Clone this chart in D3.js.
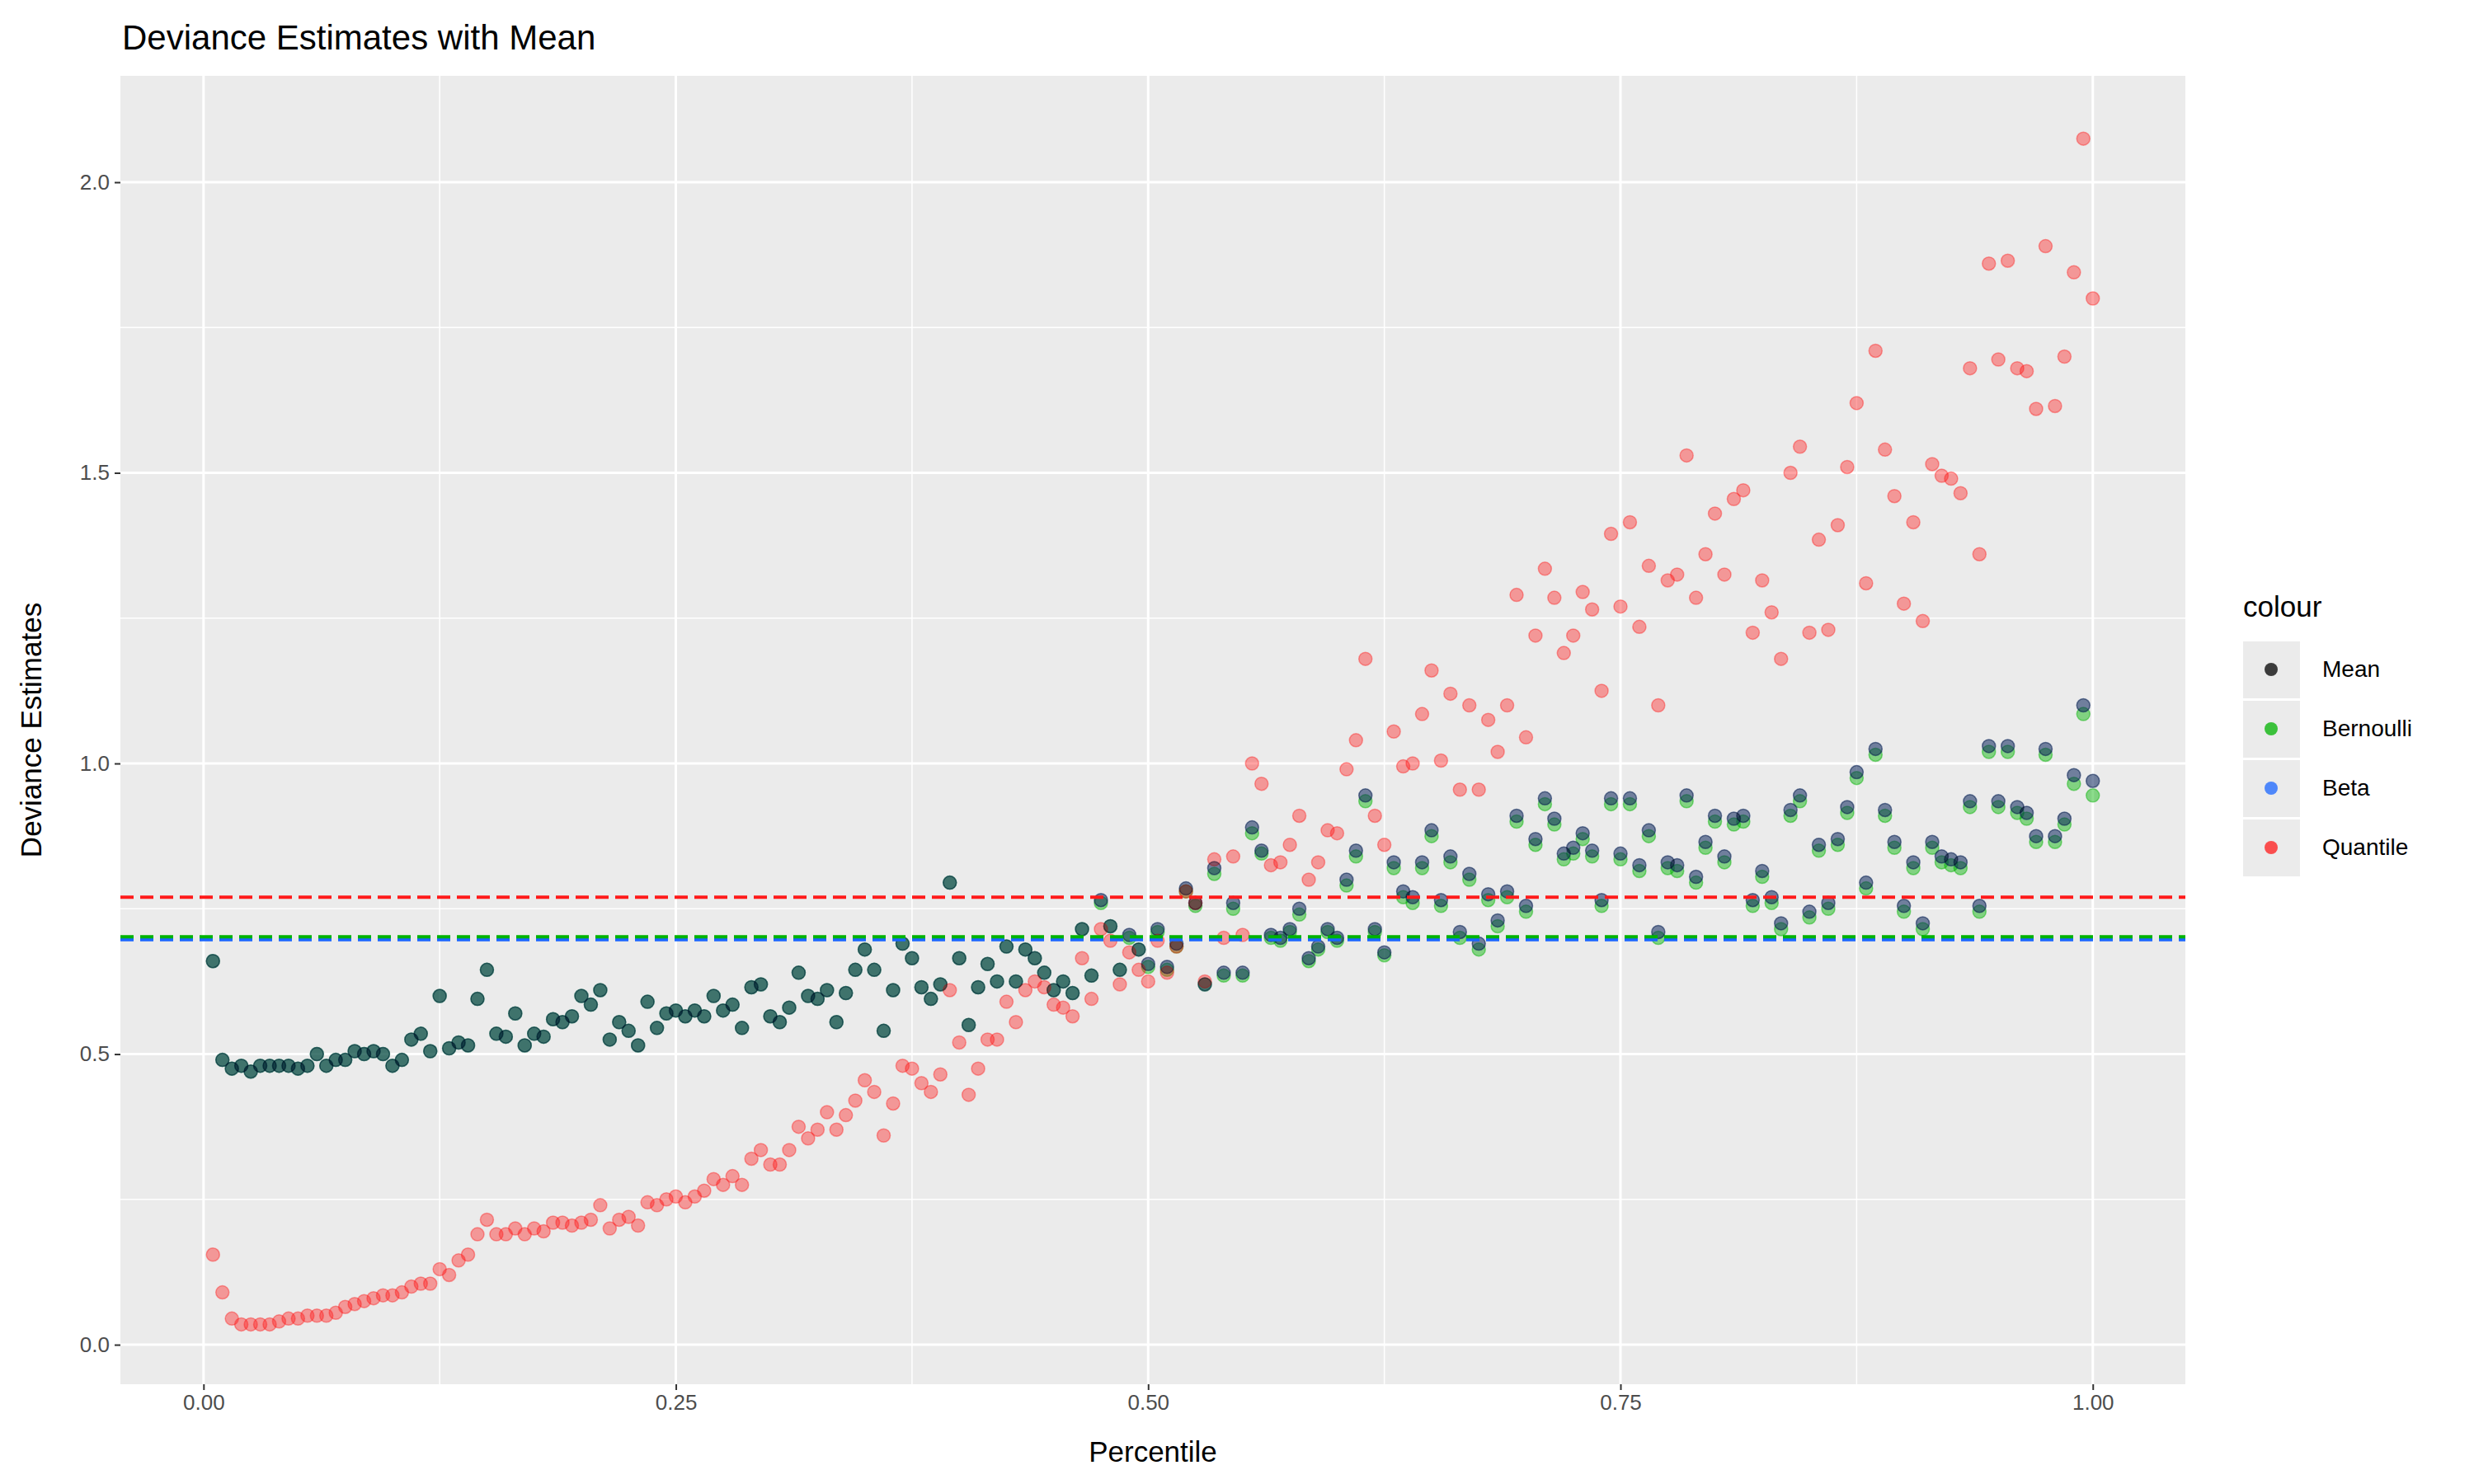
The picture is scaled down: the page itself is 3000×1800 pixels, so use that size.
<!DOCTYPE html>
<html><head><meta charset="utf-8">
<script src="https://cdn.jsdelivr.net/npm/d3@7"></script>
<style>body{margin:0;background:#fff}</style>
</head><body><div id="chart"></div>
<script>
// data: deviance estimates at percentiles 0.005 .. 1.000
var meanVals = [0.66,0.49,0.475,0.48,0.47,0.48,0.48,0.48,0.48,0.475,0.48,0.50,0.48,0.49,0.49,0.505,0.50,0.505,0.50,0.48,
0.49,0.525,0.535,0.505,0.60,0.51,0.52,0.515,0.595,0.645,0.535,0.53,0.57,0.515,0.535,0.53,0.56,0.555,0.565,0.60,
0.585,0.61,0.525,0.555,0.54,0.515,0.59,0.545,0.57,0.575,0.565,0.575,0.565,0.60,0.575,0.585,0.545,0.615,0.62,0.565,
0.555,0.58,0.64,0.60,0.595,0.61,0.555,0.605,0.645,0.68,0.645,0.54,0.61,0.69,0.665,0.615,0.595,0.62,0.795,0.665,
0.55,0.615,0.655,0.625,0.685,0.625,0.68,0.665,0.64,0.61,0.625,0.605,0.715,0.635,0.765,0.72,0.645,0.705,0.68,0.655,
0.715,0.65,0.69,0.785,0.76,0.62,0.82,0.64,0.76,0.64,0.89,0.85,0.705,0.70,0.715,0.75,0.665,0.685,0.715,0.70,
0.80,0.85,0.945,0.715,0.675,0.83,0.78,0.77,0.83,0.885,0.765,0.84,0.71,0.81,0.69,0.775,0.73,0.78,0.91,0.755,
0.87,0.94,0.905,0.845,0.855,0.88,0.85,0.765,0.94,0.845,0.94,0.825,0.885,0.71,0.83,0.825,0.945,0.805,0.865,0.91,
0.84,0.905,0.91,0.765,0.815,0.77,0.725,0.92,0.945,0.745,0.86,0.76,0.87,0.925,0.985,0.795,1.025,0.92,0.865,0.755,
0.83,0.725,0.865,0.84,0.835,0.83,0.935,0.755,1.03,0.935,1.03,0.925,0.915,0.875,1.025,0.875,0.905,0.98,1.10,0.97];

var bernoulliVals = [0.66,0.49,0.475,0.48,0.47,0.48,0.48,0.48,0.48,0.475,0.48,0.50,0.48,0.49,0.49,0.505,0.50,0.505,0.50,0.48,
0.49,0.525,0.535,0.505,0.60,0.51,0.52,0.515,0.595,0.645,0.535,0.53,0.57,0.515,0.535,0.53,0.56,0.555,0.565,0.60,
0.585,0.61,0.525,0.555,0.54,0.515,0.59,0.545,0.57,0.575,0.565,0.575,0.565,0.60,0.575,0.585,0.545,0.615,0.62,0.565,
0.555,0.58,0.64,0.60,0.595,0.61,0.555,0.605,0.645,0.68,0.645,0.54,0.61,0.69,0.665,0.615,0.595,0.62,0.795,0.665,
0.55,0.615,0.655,0.625,0.685,0.625,0.68,0.665,0.64,0.61,0.625,0.605,0.715,0.635,0.76,0.72,0.645,0.70,0.68,0.65,
0.71,0.645,0.685,0.78,0.755,0.62,0.81,0.635,0.75,0.635,0.88,0.845,0.70,0.695,0.71,0.74,0.66,0.68,0.71,0.695,
0.79,0.84,0.935,0.71,0.67,0.82,0.77,0.76,0.82,0.875,0.755,0.83,0.70,0.80,0.68,0.765,0.72,0.77,0.90,0.745,
0.86,0.93,0.895,0.835,0.845,0.87,0.84,0.755,0.93,0.835,0.93,0.815,0.875,0.70,0.82,0.815,0.935,0.795,0.855,0.90,
0.83,0.895,0.90,0.755,0.805,0.76,0.715,0.91,0.935,0.735,0.85,0.75,0.86,0.915,0.975,0.785,1.015,0.91,0.855,0.745,
0.82,0.715,0.855,0.83,0.825,0.82,0.925,0.745,1.02,0.925,1.02,0.915,0.905,0.865,1.015,0.865,0.895,0.965,1.085,0.945];

var betaVals = [0.66,0.49,0.475,0.48,0.47,0.48,0.48,0.48,0.48,0.475,0.48,0.50,0.48,0.49,0.49,0.505,0.50,0.505,0.50,0.48,
0.49,0.525,0.535,0.505,0.60,0.51,0.52,0.515,0.595,0.645,0.535,0.53,0.57,0.515,0.535,0.53,0.56,0.555,0.565,0.60,
0.585,0.61,0.525,0.555,0.54,0.515,0.59,0.545,0.57,0.575,0.565,0.575,0.565,0.60,0.575,0.585,0.545,0.615,0.62,0.565,
0.555,0.58,0.64,0.60,0.595,0.61,0.555,0.605,0.645,0.68,0.645,0.54,0.61,0.69,0.665,0.615,0.595,0.62,0.795,0.665,
0.55,0.615,0.655,0.625,0.685,0.625,0.68,0.665,0.64,0.61,0.625,0.605,0.715,0.635,0.765,0.72,0.645,0.705,0.68,0.655,
0.715,0.65,0.69,0.785,0.76,0.62,0.82,0.64,0.76,0.64,0.89,0.85,0.705,0.70,0.715,0.75,0.665,0.685,0.715,0.70,
0.80,0.85,0.945,0.715,0.675,0.83,0.78,0.77,0.83,0.885,0.765,0.84,0.71,0.81,0.69,0.775,0.73,0.78,0.91,0.755,
0.87,0.94,0.905,0.845,0.855,0.88,0.85,0.765,0.94,0.845,0.94,0.825,0.885,0.71,0.83,0.825,0.945,0.805,0.865,0.91,
0.84,0.905,0.91,0.765,0.815,0.77,0.725,0.92,0.945,0.745,0.86,0.76,0.87,0.925,0.985,0.795,1.025,0.92,0.865,0.755,
0.83,0.725,0.865,0.84,0.835,0.83,0.935,0.755,1.03,0.935,1.03,0.925,0.915,0.875,1.025,0.875,0.905,0.98,1.10,0.97];

var quantileVals = [0.155,0.09,0.045,0.035,0.035,0.035,0.035,0.04,0.045,0.045,0.05,0.05,0.05,0.055,0.065,0.07,0.075,0.08,0.085,0.085,
0.09,0.10,0.105,0.105,0.13,0.12,0.145,0.155,0.19,0.215,0.19,0.19,0.20,0.19,0.20,0.195,0.21,0.21,0.205,0.21,
0.215,0.24,0.20,0.215,0.22,0.205,0.245,0.24,0.25,0.255,0.245,0.255,0.265,0.285,0.275,0.29,0.275,0.32,0.335,0.31,
0.31,0.335,0.375,0.355,0.37,0.40,0.37,0.395,0.42,0.455,0.435,0.36,0.415,0.48,0.475,0.45,0.435,0.465,0.61,0.52,
0.43,0.475,0.525,0.525,0.59,0.555,0.61,0.625,0.615,0.585,0.58,0.565,0.665,0.595,0.715,0.695,0.62,0.675,0.645,0.625,
0.695,0.64,0.685,0.78,0.76,0.625,0.835,0.70,0.84,0.705,1.00,0.965,0.825,0.83,0.86,0.91,0.80,0.83,0.885,0.88,
0.99,1.04,1.18,0.91,0.86,1.055,0.995,1.00,1.085,1.16,1.005,1.12,0.955,1.10,0.955,1.075,1.02,1.10,1.29,1.045,
1.22,1.335,1.285,1.19,1.22,1.295,1.265,1.125,1.395,1.27,1.415,1.235,1.34,1.10,1.315,1.325,1.53,1.285,1.36,1.43,
1.325,1.455,1.47,1.225,1.315,1.26,1.18,1.50,1.545,1.225,1.385,1.23,1.41,1.51,1.62,1.31,1.71,1.54,1.46,1.275,
1.415,1.245,1.515,1.495,1.49,1.465,1.68,1.36,1.86,1.695,1.865,1.68,1.675,1.61,1.89,1.615,1.70,1.845,2.075,1.80];

var percentiles = d3.range(1, 201).map(function(i) { return i / 200; });

var seriesNames = ["Mean", "Bernoulli", "Beta", "Quantile"];
var seriesColors = {Mean: "#000000", Bernoulli: "#00b300", Beta: "#1a66ff", Quantile: "#ff1a1a"};
var meanLines = {Bernoulli: 0.702, Beta: 0.697, Quantile: 0.770};
var xTicks = [0, 0.25, 0.5, 0.75, 1];
var yTicks = [0, 0.5, 1, 1.5, 2];

var W = 3000, H = 1800;
var panel = {left: 146, right: 2650, top: 92, bottom: 1679};

var svg = d3.select("#chart").append("svg")
  .attr("width", W).attr("height", H)
  .style("font-family", "'Liberation Sans', Arial, sans-serif");

var x = d3.scaleLinear().domain([-0.044, 1.049]).range([panel.left, panel.right]);
var y = d3.scaleLinear().domain([-0.068, 2.183]).range([panel.bottom, panel.top]);

svg.append("rect")
  .attr("x", panel.left).attr("y", panel.top)
  .attr("width", panel.right - panel.left).attr("height", panel.bottom - panel.top)
  .attr("fill", "#ebebeb");

// minor grid
[0.125, 0.375, 0.625, 0.875].forEach(function(v) {
  svg.append("line").attr("x1", x(v)).attr("x2", x(v)).attr("y1", panel.top).attr("y2", panel.bottom)
    .attr("stroke", "#fff").attr("stroke-width", 1.5);
});
[0.25, 0.75, 1.25, 1.75].forEach(function(v) {
  svg.append("line").attr("x1", panel.left).attr("x2", panel.right).attr("y1", y(v)).attr("y2", y(v))
    .attr("stroke", "#fff").attr("stroke-width", 1.5);
});
// major grid
xTicks.forEach(function(v) {
  svg.append("line").attr("x1", x(v)).attr("x2", x(v)).attr("y1", panel.top).attr("y2", panel.bottom)
    .attr("stroke", "#fff").attr("stroke-width", 3);
});
yTicks.forEach(function(v) {
  svg.append("line").attr("x1", panel.left).attr("x2", panel.right).attr("y1", y(v)).attr("y2", y(v))
    .attr("stroke", "#fff").attr("stroke-width", 3);
});

// axes
var xAxis = svg.append("g").attr("transform", "translate(0," + panel.bottom + ")")
  .call(d3.axisBottom(x).tickValues(xTicks).tickFormat(d3.format(".2f")).tickSize(7).tickPadding(6));
var yAxis = svg.append("g").attr("transform", "translate(" + panel.left + ",0)")
  .call(d3.axisLeft(y).tickValues(yTicks).tickFormat(d3.format(".1f")).tickSize(7).tickPadding(6));
[xAxis, yAxis].forEach(function(a) {
  a.select(".domain").remove();
  a.selectAll("line").attr("stroke", "#333").attr("stroke-width", 2);
  a.selectAll("text").attr("fill", "#4d4d4d").style("font-size", "26px");
});

// points
function drawPoints(name, vals, alpha) {
  svg.append("g").selectAll("circle")
    .data(vals.map(function(v, i) { return {p: percentiles[i], v: v}; }))
    .enter().append("circle")
    .attr("cx", function(d) { return x(d.p); })
    .attr("cy", function(d) { return y(d.v); })
    .attr("r", 8)
    .attr("fill", seriesColors[name]).attr("fill-opacity", alpha)
    .attr("stroke", seriesColors[name]).attr("stroke-opacity", alpha).attr("stroke-width", 1.5);
}
drawPoints("Bernoulli", bernoulliVals, 0.45);
drawPoints("Beta", betaVals, 0.3);
drawPoints("Quantile", quantileVals, 0.4);
drawPoints("Mean", meanVals, 0.35);

// mean lines
["Beta", "Bernoulli", "Quantile"].forEach(function(n) {
  svg.append("line").attr("x1", panel.left).attr("x2", panel.right)
    .attr("y1", y(meanLines[n])).attr("y2", y(meanLines[n]))
    .attr("stroke", seriesColors[n]).attr("stroke-width", 4).attr("stroke-dasharray", "16,8");
});

// titles
svg.append("text").attr("x", 148).attr("y", 60).text("Deviance Estimates with Mean")
  .style("font-size", "42px").attr("fill", "#000");
svg.append("text").attr("x", (panel.left + panel.right) / 2).attr("y", 1773).attr("text-anchor", "middle")
  .text("Percentile").style("font-size", "35px");
svg.append("text").attr("transform", "translate(50," + (panel.top + panel.bottom) / 2 + ") rotate(-90)")
  .attr("text-anchor", "middle").text("Deviance Estimates").style("font-size", "35px");

// legend
var lg = svg.append("g").attr("transform", "translate(2720,0)");
lg.append("text").attr("x", 0).attr("y", 748).text("colour").style("font-size", "35px");
seriesNames.forEach(function(n, i) {
  var cy = 812 + i * 72;
  lg.append("rect").attr("x", 0).attr("y", cy - 34).attr("width", 69).attr("height", 69).attr("fill", "#ebebeb");
  lg.append("circle").attr("cx", 34).attr("cy", cy).attr("r", 8)
    .attr("fill", seriesColors[n]).attr("fill-opacity", 0.75);
  lg.append("text").attr("x", 96).attr("y", cy + 9).text(n).style("font-size", "28px").attr("fill", "#000");
});
</script>
</body></html>
